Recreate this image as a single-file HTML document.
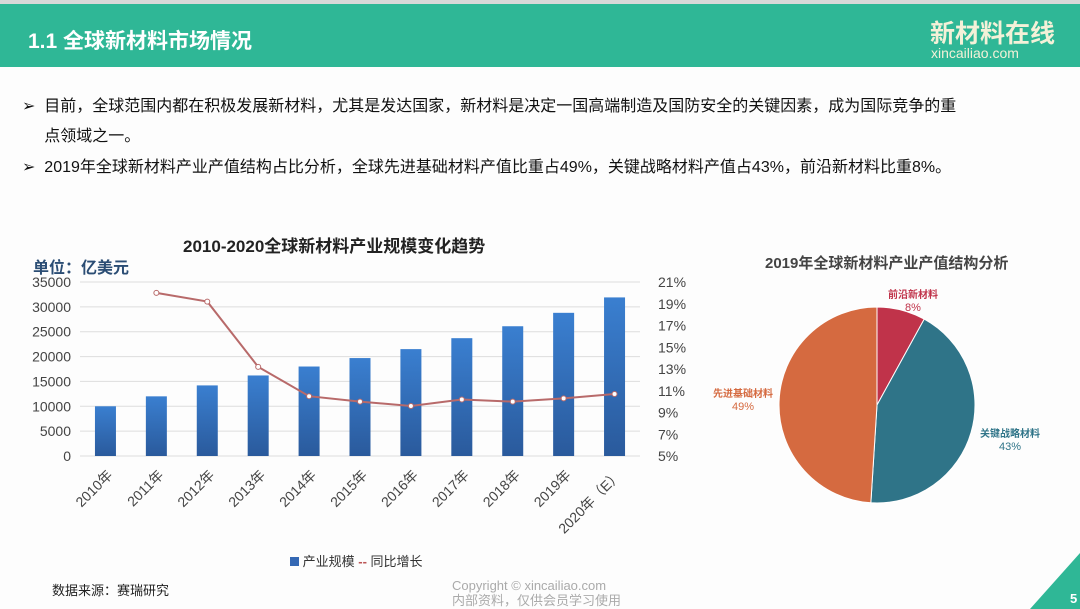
<!DOCTYPE html>
<html><head><meta charset="utf-8">
<style>
body{margin:0;width:1080px;height:609px;background:#fdfdfd;overflow:hidden;position:relative;font-family:"Liberation Sans","Noto Sans CJK SC",sans-serif;}
.abs{position:absolute;}
</style></head><body>
<div class="abs" style="left:0;top:0;width:1080px;height:4px;background:#d8d8d8"></div>
<div class="abs" style="left:0;top:4px;width:1080px;height:63px;background:#2fb796"></div>
<div class="abs" style="left:28px;top:25px;color:#fff;font-size:21px;font-weight:bold">1.1 全球新材料市场情况</div>
<div class="abs" style="left:930px;top:14px;color:#f4f1d8;font-size:25px;font-weight:bold">新材料在线</div>
<div class="abs" style="left:931px;top:45px;color:#f4f1d8;font-size:14px">xincailiao.com</div>
<div class="abs" style="left:22px;top:92px;width:1050px;font-size:16px;line-height:30px;color:#111">➢&nbsp; 目前，全球范围内都在积极发展新材料，尤其是发达国家，新材料是决定一国高端制造及国防安全的关键因素，成为国际竞争的重<br>&nbsp;&nbsp;&nbsp;&nbsp;&nbsp;点领域之一。</div>
<div class="abs" style="left:22px;top:153px;width:1050px;font-size:16px;line-height:30px;color:#111">➢&nbsp; 2019年全球新材料产业产值结构占比分析，全球先进基础材料产值比重占49%，关键战略材料产值占43%，前沿新材料比重8%。</div>
<div class="abs" style="left:183px;top:232px;font-size:17px;font-weight:bold;color:#222">2010-2020全球新材料产业规模变化趋势</div>
<div class="abs" style="left:33px;top:254px;font-size:16px;font-weight:bold;color:#2b4d74">单位：亿美元</div>
<svg class="abs" style="left:0;top:0" width="1080" height="609">
<g id="bar"></g><g id="pie"></g>
</svg>
<div class="abs" style="left:290px;top:551px;font-size:13px;color:#333"><span><span style="display:inline-block;width:9px;height:9px;background:#3468b4"></span> 产业规模</span> <span><span style="color:#b55;font-weight:bold">--</span> 同比增长</span></div>
<div class="abs" style="left:765px;top:252px;font-size:15px;font-weight:bold;color:#444">2019年全球新材料产业产值结构分析</div>
<div class="abs" style="left:52px;top:580px;font-size:13px;color:#222">数据来源：赛瑞研究</div>
<div class="abs" style="left:452px;top:578px;font-size:13px;line-height:15px;color:#aaa">Copyright © xincailiao.com<br>内部资料，仅供会员学习使用</div>
<svg class="abs" style="left:1025px;top:553px" width="55" height="56"><polygon points="55,0 55,56 5,56" fill="#2fb796"/><text x="45" y="50" fill="#fff" font-size="13" font-weight="bold" font-family="Liberation Sans">5</text></svg>
<script>
const categories=["2010年","2011年","2012年","2013年","2014年","2015年","2016年","2017年","2018年","2019年","2020年（E）"];
const scaleValues=[10000,12000,14200,16200,18000,19700,21500,23700,26100,28800,31900];
const growthValues=[null,20.0,19.2,13.2,10.5,10.0,9.6,10.2,10.0,10.3,10.7];
const leftTicks=[0,5000,10000,15000,20000,25000,30000,35000];
const rightTicks=[5,7,9,11,13,15,17,19,21];
const pieLabels=["前沿新材料","关键战略材料","先进基础材料"];
const pieValues=[8,43,49];
const NS="http://www.w3.org/2000/svg";
function mk(t,a,p){const e=document.createElementNS(NS,t);for(const k in a)e.setAttribute(k,a[k]);p.appendChild(e);return e;}
const g=document.getElementById('bar');
const x0=80,x1=640,yTop=282,yBot=456;
const yL=v=>yBot-(v/35000)*(yBot-yTop);
const yR=v=>yBot-((v-5)/16)*(yBot-yTop);
const band=(x1-x0)/categories.length;
const xc=i=>x0+band*(i+0.5);
const defs=mk('defs',{},g);const lg=mk('linearGradient',{id:'bg',x1:0,y1:0,x2:0,y2:1},defs);
mk('stop',{offset:0,'stop-color':'#3a7fd0'},lg);mk('stop',{offset:1,'stop-color':'#2a5a9c'},lg);
leftTicks.forEach(v=>{const l=mk('line',{x1:x0,x2:x1,y1:yL(v),y2:yL(v),stroke:'#ddd'},g);

const t=mk('text',{x:71,y:yL(v)+5,'text-anchor':'end','font-size':14,fill:'#444','font-family':'Liberation Sans'},g);t.textContent=v;
});
rightTicks.forEach(v=>{const t=mk('text',{x:658,y:yR(v)+5,'font-size':14,fill:'#444','font-family':'Liberation Sans'},g);t.textContent=v+'%';
});
scaleValues.forEach((v,i)=>{const r=mk('rect',{x:xc(i)-10.5,y:yL(v),width:21,height:yBot-yL(v),fill:'url(#bg)'},g);

const t=mk('text',{x:0,y:0,'text-anchor':'end','font-size':14,fill:'#444',transform:`translate(${xc(i)+8},${yBot+20}) rotate(-45)`,'font-family':'Liberation Sans,Noto Sans CJK SC,sans-serif'},g);t.textContent=categories[i];
});
let pts=[];growthValues.forEach((v,i)=>{if(v!=null)pts.push([xc(i),yR(v)]);});
const pl=mk('polyline',{points:pts.map(p=>p.join(',')).join(' '),fill:'none',stroke:'#b86a6a','stroke-width':2},g);

pts.forEach(p=>{const c=mk('circle',{cx:p[0],cy:p[1],r:2.5,fill:'#fff',stroke:'#b86a6a','stroke-width':1},g);
});
const pg=document.getElementById('pie');
const cx=877,cy=405,R=98;const cols=['#c0334a','#2f7488','#d56a40'];
const lp=[[913,298,'#c0334a'],[1010,437,'#2f7488'],[743,397,'#d56a40']];
const tot=pieValues.reduce((a,b)=>a+b,0);let a=0;
pieValues.forEach((v,i)=>{const a0=a,a1=a+v/tot*2*Math.PI;a=a1;
const P=t=>[cx+R*Math.sin(t),cy-R*Math.cos(t)];const s=P(a0),e=P(a1);
const p=mk('path',{d:`M${cx},${cy}L${s[0]},${s[1]}A${R},${R} 0 ${a1-a0>Math.PI?1:0} 1 ${e[0]},${e[1]}Z`,fill:cols[i],stroke:'#fff','stroke-width':1},pg);

const t=mk('text',{x:lp[i][0],y:lp[i][1],'text-anchor':'middle','font-size':10,'font-weight':'bold',fill:lp[i][2],'font-family':'Liberation Sans,Noto Sans CJK SC,sans-serif'},pg);
t.textContent=pieLabels[i];
const t2=mk('text',{x:lp[i][0],y:lp[i][1]+13,'text-anchor':'middle','font-size':11,fill:lp[i][2],'font-family':'Liberation Sans'},pg);
t2.textContent=v+'%';});
</script>
</body></html>
